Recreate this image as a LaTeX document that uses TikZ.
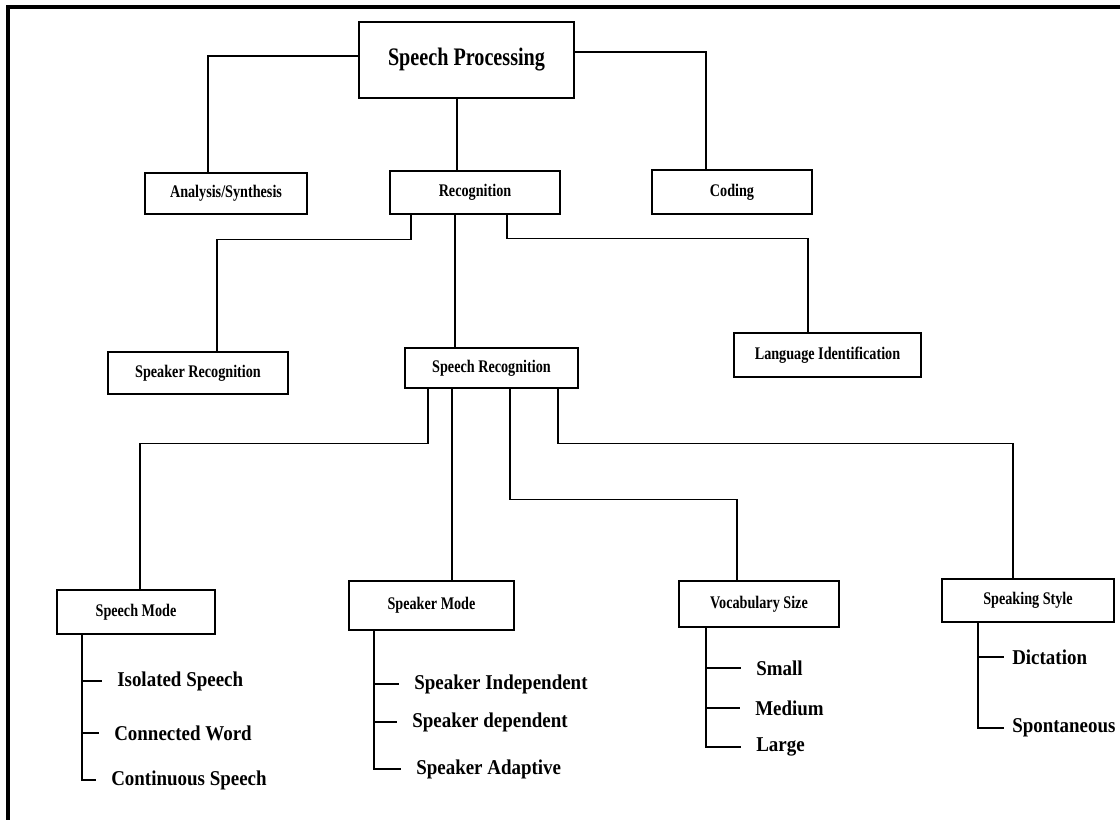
\documentclass[tikz,border=0pt]{standalone}
\usepackage{fontspec}
\setmainfont{Liberation Serif}
\newfontfamily\boxfont[FakeStretch=0.8]{Liberation Serif}
\newfontfamily\itemfont[FakeStretch=0.9]{Liberation Serif}
\usetikzlibrary{calc}

\begin{document}
\begin{tikzpicture}[x=0.75pt,y=-0.75pt,
  box/.style={draw,line width=1.1pt,inner sep=0pt,align=center,font={\boxfont\bfseries\fontsize{13.3}{15}\selectfont}},
  item/.style={anchor=west,inner xsep=11.25pt,inner ysep=0pt,font={\itemfont\bfseries\fontsize{15.8}{18}\selectfont}},
  conn/.style={line width=1.1pt}]
  \useasboundingbox (0,0) rectangle (1120,820);
  \draw[line width=2.6pt] (8,820) -- (8,7) -- (1120,7);
  % top levels
  \node[box,minimum width=161.25pt,minimum height=57pt,font={\boxfont\bfseries\fontsize{18.9}{22}\selectfont}] (sp) at (466.5,60) {Speech Processing};
  \node[box,minimum width=121.5pt,minimum height=30.75pt] (analysis) at (226,193.5) {Analysis/Synthesis};
  \node[box,minimum width=127.5pt,minimum height=32.25pt] (recog) at (475,192.5) {Recognition};
  \node[box,minimum width=120pt,minimum height=33pt] (coding) at (732,192) {Coding};
  \node[box,minimum width=135pt,minimum height=31.5pt] (spkrec) at (198,373) {Speaker Recognition};
  \node[box,minimum width=129.75pt,minimum height=30pt] (sprec) at (491.5,368) {Speech Recognition};
  \node[box,minimum width=140.25pt,minimum height=33pt] (langid) at (827.5,355) {Language Identification};
  \node[box,minimum width=118.5pt,minimum height=33pt] (mode) at (136,612) {Speech Mode};
  \node[box,minimum width=123.75pt,minimum height=36.75pt] (spkmode) at (431.5,605.5) {Speaker Mode};
  \node[box,minimum width=120pt,minimum height=34.5pt] (vocab) at (759,604) {Vocabulary Size};
  \node[box,minimum width=129pt,minimum height=32.25pt] (style) at (1028,600.5) {Speaking Style};
  % leaves
  \node[item] (sm1) at (102,681) {Isolated Speech};
  \node[item] (sm2) at (99,733) {Connected Word};
  \node[item] (sm3) at (96,780) {Continuous Speech};
  \node[item] (pm1) at (399,684) {Speaker Independent};
  \node[item] (pm2) at (397,722) {Speaker dependent};
  \node[item] (pm3) at (401,769) {Speaker Adaptive};
  \node[item] (vs1) at (741,668) {Small};
  \node[item] (vs2) at (740,708) {Medium};
  \node[item] (vs3) at (741,747) {Large};
  \node[item,inner xsep=6pt] (ss1) at (1004,657) {Dictation};
  \node[item,inner xsep=6pt] (ss2) at (1004,728) {Spontaneous};
  % connectors
  \draw[conn] ($(sp.west)+(0,-4)$) -| ($(analysis.north)+(-18,0)$);
  \draw[conn] ($(recog.north)+(-18,0)$) coordinate (r0) -- (r0 |- sp.south);
  \draw[conn] ($(sp.east)+(0,-8)$) -| ($(coding.north)+(-26,0)$);
  \draw[conn] ($(recog.south)+(-64,0)$) -- ++(0,25) -| ($(spkrec.north)+(19,0)$);
  \draw[conn] ($(sprec.north)+(-36.5,0)$) coordinate (r1) -- (r1 |- recog.south);
  \draw[conn] ($(recog.south)+(32,0)$) -- ++(0,24) -| ($(langid.north)+(-19.5,0)$);
  \draw[conn] ($(sprec.south)+(-63.5,0)$) -- ++(0,55) -| ($(mode.north)+(4,0)$);
  \draw[conn] ($(spkmode.north)+(20.5,0)$) coordinate (r2) -- (r2 |- sprec.south);
  \draw[conn] ($(sprec.south)+(18.5,0)$) -- ++(0,111) -| ($(vocab.north)+(-22,0)$);
  \draw[conn] ($(sprec.south)+(66.5,0)$) -- ++(0,55) -| ($(style.north)+(-15,0)$);
  \draw[conn] ($(mode.south)+(-54,0)$) coordinate (m0) |- (sm3.west);
  \draw[conn] (sm1.west -| m0) -- (sm1.west);
  \draw[conn] (sm2.west -| m0) -- (sm2.west);
  \draw[conn] ($(spkmode.south)+(-57.5,0)$) coordinate (m1) |- (pm3.west);
  \draw[conn] (pm1.west -| m1) -- (pm1.west);
  \draw[conn] (pm2.west -| m1) -- (pm2.west);
  \draw[conn] ($(vocab.south)+(-53,0)$) coordinate (m2) |- (vs3.west);
  \draw[conn] (vs1.west -| m2) -- (vs1.west);
  \draw[conn] (vs2.west -| m2) -- (vs2.west);
  \draw[conn] ($(style.south)+(-50,0)$) coordinate (m3) |- (ss2.west);
  \draw[conn] (ss1.west -| m3) -- (ss1.west);
\end{tikzpicture}
\end{document}
